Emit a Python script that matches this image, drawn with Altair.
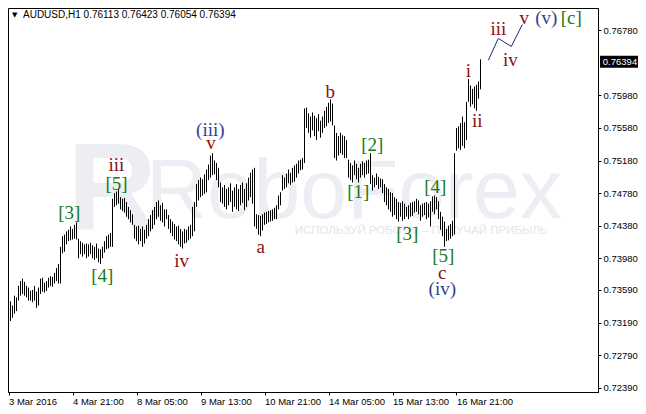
import altair as alt
import pandas as pd

symbol = "AUDUSD,H1"
last_ohlc = [0.76113, 0.76423, 0.76054, 0.76394]

highs = [
    0.7336, 0.7345, 0.7340, 0.7352, 0.7350, 0.7364, 0.7370, 0.7373, 0.7369, 0.7364,
    0.7362, 0.7358, 0.7359, 0.7364, 0.7357, 0.7362, 0.7373, 0.7374, 0.7368, 0.7370,
    0.7374, 0.7376, 0.7375, 0.7380, 0.7386, 0.7391, 0.7412, 0.7425, 0.7427, 0.7431,
    0.7433, 0.7437, 0.7434, 0.7439, 0.7442, 0.7422, 0.7419, 0.7417, 0.7415, 0.7416,
    0.7415, 0.7417, 0.7414, 0.7412, 0.7416, 0.7410, 0.7409, 0.7412, 0.7419, 0.7425,
    0.7427, 0.7429, 0.7471, 0.7478, 0.7480, 0.7483, 0.7473, 0.7471, 0.7472, 0.7467,
    0.7461, 0.7457, 0.7452, 0.7439, 0.7437, 0.7438, 0.7434, 0.7437, 0.7433, 0.7439,
    0.7446, 0.7451, 0.7457, 0.7461, 0.7467, 0.7469, 0.7463, 0.7466, 0.7458, 0.7458,
    0.7451, 0.7446, 0.7443, 0.7440, 0.7437, 0.7438, 0.7434, 0.7431, 0.7434, 0.7433,
    0.7437, 0.7439, 0.7461, 0.7467, 0.7489, 0.7494, 0.7497, 0.7495, 0.7501, 0.7507,
    0.7513, 0.7524, 0.7527, 0.7518, 0.7515, 0.7509, 0.7491, 0.7485, 0.7488, 0.7483,
    0.7485, 0.7490, 0.7481, 0.7485, 0.7489, 0.7483, 0.7488, 0.7491, 0.7483, 0.7490,
    0.7497, 0.7503, 0.7507, 0.7509, 0.7452, 0.7451, 0.7450, 0.7452, 0.7454, 0.7455,
    0.7456, 0.7457, 0.7458, 0.7460, 0.7463, 0.7475, 0.7479, 0.7500, 0.7497, 0.7502,
    0.7507, 0.7503, 0.7509, 0.7512, 0.7514, 0.7518, 0.7519, 0.7521, 0.7582, 0.7583,
    0.7576, 0.7572, 0.7577, 0.7573, 0.7570, 0.7575, 0.7567, 0.7572, 0.7579, 0.7584,
    0.7589, 0.7593, 0.7588, 0.7561, 0.7552, 0.7548, 0.7552, 0.7549, 0.7548, 0.7543,
    0.7519, 0.7515, 0.7512, 0.7518, 0.7514, 0.7509, 0.7514, 0.7517, 0.7515, 0.7518,
    0.7519, 0.7527, 0.7500, 0.7497, 0.7502, 0.7498, 0.7496, 0.7495, 0.7489, 0.7485,
    0.7483, 0.7479, 0.7478, 0.7473, 0.7471, 0.7467, 0.7466, 0.7468, 0.7465, 0.7461,
    0.7463, 0.7466, 0.7467, 0.7468, 0.7471, 0.7469, 0.7463, 0.7465, 0.7466, 0.7467,
    0.7465, 0.7468, 0.7474, 0.7475, 0.7473, 0.7468, 0.7455, 0.7449, 0.7443, 0.7434,
    0.7438, 0.7440, 0.7444, 0.7527, 0.7558, 0.7560, 0.7564, 0.7572, 0.7565, 0.7590,
    0.7618, 0.7610, 0.7606, 0.7609, 0.7611, 0.7615, 0.76423,
]

lows = [
    0.7324, 0.7321, 0.7325, 0.7330, 0.7333, 0.7346, 0.7352, 0.7354, 0.7352, 0.7350,
    0.7346, 0.7346, 0.7344, 0.7346, 0.7337, 0.7340, 0.7354, 0.7357, 0.7356, 0.7358,
    0.7362, 0.7364, 0.7363, 0.7367, 0.7370, 0.7367, 0.7367, 0.7404, 0.7406, 0.7415,
    0.7419, 0.7420, 0.7421, 0.7422, 0.7421, 0.7398, 0.7403, 0.7400, 0.7403, 0.7398,
    0.7400, 0.7403, 0.7398, 0.7396, 0.7398, 0.7393, 0.7391, 0.7398, 0.7405, 0.7409,
    0.7410, 0.7412, 0.7412, 0.7461, 0.7463, 0.7465, 0.7458, 0.7456, 0.7454, 0.7449,
    0.7446, 0.7442, 0.7439, 0.7422, 0.7419, 0.7415, 0.7419, 0.7412, 0.7416, 0.7422,
    0.7425, 0.7431, 0.7434, 0.7439, 0.7446, 0.7449, 0.7444, 0.7442, 0.7437, 0.7446,
    0.7434, 0.7429, 0.7425, 0.7421, 0.7419, 0.7415, 0.7412, 0.7410, 0.7416, 0.7417,
    0.7420, 0.7422, 0.7425, 0.7431, 0.7461, 0.7469, 0.7473, 0.7475, 0.7477, 0.7479,
    0.7494, 0.7497, 0.7500, 0.7501, 0.7494, 0.7485, 0.7467, 0.7465, 0.7461, 0.7458,
    0.7463, 0.7467, 0.7455, 0.7461, 0.7458, 0.7456, 0.7463, 0.7466, 0.7457, 0.7461,
    0.7469, 0.7473, 0.7465, 0.7437, 0.7434, 0.7427, 0.7425, 0.7432, 0.7439, 0.7440,
    0.7442, 0.7443, 0.7444, 0.7446, 0.7446, 0.7458, 0.7463, 0.7481, 0.7483, 0.7485,
    0.7490, 0.7488, 0.7491, 0.7492, 0.7497, 0.7502, 0.7506, 0.7507, 0.7515, 0.7558,
    0.7552, 0.7546, 0.7555, 0.7548, 0.7543, 0.7554, 0.7546, 0.7552, 0.7558, 0.7560,
    0.7564, 0.7566, 0.7561, 0.7521, 0.7518, 0.7524, 0.7527, 0.7525, 0.7521, 0.7521,
    0.7497, 0.7494, 0.7491, 0.7500, 0.7495, 0.7491, 0.7497, 0.7500, 0.7497, 0.7501,
    0.7502, 0.7489, 0.7481, 0.7485, 0.7488, 0.7483, 0.7485, 0.7478, 0.7467, 0.7463,
    0.7458, 0.7455, 0.7449, 0.7451, 0.7446, 0.7443, 0.7449, 0.7444, 0.7446, 0.7449,
    0.7446, 0.7449, 0.7450, 0.7454, 0.7455, 0.7452, 0.7444, 0.7449, 0.7451, 0.7446,
    0.7448, 0.7437, 0.7455, 0.7452, 0.7458, 0.7446, 0.7433, 0.7425, 0.7412, 0.7419,
    0.7420, 0.7422, 0.7425, 0.7427, 0.7530, 0.7533, 0.7531, 0.7536, 0.7533, 0.7543,
    0.7590, 0.7584, 0.7587, 0.7582, 0.7579, 0.7594, 0.76054,
]

time_tick_bars = [0, 32, 64, 96, 128, 160, 192, 224]
time_labels = ["3 Mar 2016", "4 Mar 21:00", "8 Mar 05:00", "9 Mar 13:00",
               "10 Mar 21:00", "14 Mar 05:00", "15 Mar 13:00", "16 Mar 21:00"]
price_ticks = [0.72390, 0.72790, 0.73190, 0.73590, 0.73980, 0.74380,
               0.74780, 0.75180, 0.75580, 0.75980, 0.76780]

wave_text = ["[3]", "[4]", "iii", "[5]", "iv", "(iii)", "v", "a", "b", "[2]", "[1]",
             "[3]", "[4]", "[5]", "c", "(iv)", "i", "ii", "iii", "iv", "v", "(v)", "[c]"]
wave_bar = [30.4, 46.9, 53.9, 54.0, 86.6, 100.9, 101.2, 126.1, 160.9, 181.9, 174.9,
            199.4, 213.4, 217.4, 216.9, 216.9, 229.9, 234.4, 244.9, 250.9, 257.9, 268.9, 281.4]
wave_price = [0.7453, 0.7376, 0.7513, 0.7489, 0.7395, 0.7555, 0.7540, 0.7412, 0.7602,
              0.7537, 0.7479, 0.7428, 0.7485, 0.7401, 0.7380, 0.7360, 0.7628, 0.7567,
              0.7679, 0.7641, 0.7693, 0.7693, 0.7693]
wave_degree = ["minor" if t in ("iii", "iv", "v", "a", "b", "c", "i", "ii") else
               ("inter" if t.startswith("(") else "minute") for t in wave_text]

proj_bar = [239.9, 244.9, 251.4, 256.9]
proj_price = [0.7641, 0.7668, 0.7658, 0.7685]

W, H = 590, 384
xscale = alt.Scale(domain=[-0.25, 294.75], nice=False, zero=False)
yscale = alt.Scale(domain=[0.72337, 0.77053], nice=False, zero=False)

bars = pd.DataFrame({"bar": list(range(len(highs))), "high": highs, "low": lows})
waves = pd.DataFrame({"t": wave_text, "bar": wave_bar, "price": wave_price, "deg": wave_degree})
proj = pd.DataFrame({"bar": proj_bar, "price": proj_price, "o": list(range(len(proj_bar)))})
last = pd.DataFrame({"close": [last_ohlc[3]], "t": [f"{last_ohlc[3]:.5f}"]})
header = pd.DataFrame({"t": [f"{symbol}  " + " ".join(f"{v:.5f}" for v in last_ohlc)]})

label_expr = "[" + ",".join(f"'{s}'" for s in time_labels) + "][round(datum.value/32)]"

AX_X = alt.Axis(
    values=time_tick_bars, labelExpr=label_expr, labelAlign="left", tickSize=3,
    labelPadding=1, grid=False, title=None, labelFont="Liberation Sans",
    labelFontSize=9.5, labelColor="black", domainColor="black", tickColor="black",
    labelOverlap=False, labelFlush=False)
AX_Y = alt.Axis(
    orient="right", values=price_ticks, format=".5f", tickSize=3, labelPadding=2,
    grid=False, title=None, labelFont="Liberation Sans", labelFontSize=9.5,
    labelColor="black", domainColor="black", tickColor="black", labelOverlap=False,
    labelFlush=False)


def X(field):
    return alt.X(field, scale=xscale, axis=AX_X)


def Y(field):
    return alt.Y(field, scale=yscale, axis=AX_Y)


wm_color = "#eceef3"
wm_logo = alt.Chart(pd.DataFrame({"t": ["R"]})).mark_text(
    font="Liberation Sans", fontWeight="bold", fontSize=124, color=wm_color,
    align="center", baseline="alphabetic").encode(
    x=alt.value(104), y=alt.value(222), text="t:N")
wm_word = alt.Chart(pd.DataFrame({"t": ["RoboForex"]})).mark_text(
    font="Liberation Sans", fontSize=84, color=wm_color,
    align="center", baseline="alphabetic").encode(
    x=alt.value(346), y=alt.value(210), text="t:N")
wm_sub = alt.Chart(pd.DataFrame({"t": ["ИСПОЛЬЗУЙ РОБОТЫ – ПОЛУЧАЙ ПРИБЫЛЬ"]})).mark_text(
    font="Liberation Sans", fontSize=11.5, color="#e3e6ec",
    align="center", baseline="middle").encode(
    x=alt.value(413), y=alt.value(223), text="t:N")

ohlc = alt.Chart(bars).mark_rule(color="black", strokeWidth=1).encode(
    x=X("bar:Q"), y=Y("high:Q"), y2="low:Q")

proj_line = alt.Chart(proj).mark_line(color="#1b2a6b", strokeWidth=1).encode(
    x=X("bar:Q"), y=Y("price:Q"), order="o:Q")

wave_marks = alt.Chart(waves).mark_text(
    font="Liberation Serif", fontSize=19, align="center", baseline="middle").encode(
    x=X("bar:Q"), y=Y("price:Q"), text="t:N",
    color=alt.Color("deg:N", scale=alt.Scale(
        domain=["minor", "minute", "inter"], range=["#8c1010", "#177a17", "#2f3f96"]),
        legend=None))

price_box = alt.Chart(last).mark_rect(color="black", yOffset=-6, y2Offset=6).encode(
    x=alt.value(592), x2=alt.value(630), y=Y("close:Q"), y2="close:Q")
price_txt = alt.Chart(last).mark_text(
    color="white", font="Liberation Sans", fontSize=9.5, align="center",
    baseline="middle").encode(x=alt.value(612), y=Y("close:Q"), text="t:N")

hdr_tri = alt.Chart(pd.DataFrame({"t": ["▼"]})).mark_text(
    font="DejaVu Sans", fontSize=7, color="black", align="left", baseline="middle").encode(
    x=alt.value(4), y=alt.value(7), text="t:N")
hdr_txt = alt.Chart(header).mark_text(
    font="Liberation Sans", fontSize=10, color="black", align="left", baseline="middle").encode(
    x=alt.value(15), y=alt.value(7), text="t:N")

chart = alt.layer(
    wm_logo, wm_word, wm_sub, ohlc, proj_line, wave_marks, price_box, price_txt,
    hdr_tri, hdr_txt
).properties(
    width=W, height=H,
    autosize=alt.AutoSizeParams(type="none"),
    padding={"left": 0, "top": 0, "right": 40, "bottom": 14},
    background="white",
).configure_view(stroke="black", strokeWidth=1).configure_axis(labelOverlap=False)

chart.save("out.html", embed_options={"renderer": "svg", "actions": False})
